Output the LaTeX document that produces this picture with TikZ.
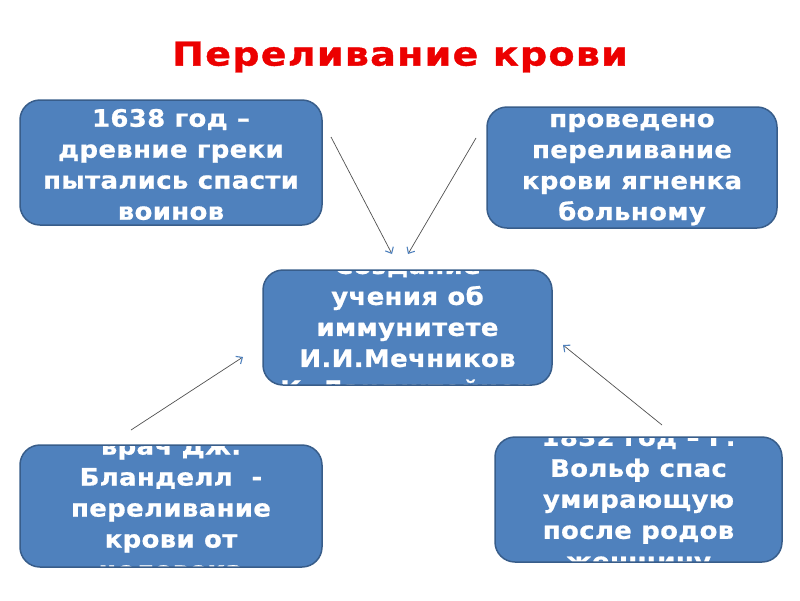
\documentclass[tikz,border=0pt]{standalone}
\usepackage{fontspec}
\setmainfont{DejaVu Sans}
\newfontfamily\boxfont[FakeStretch=1.08, LetterSpace=1.5, FakeBold=0.8]{DejaVu Sans}
\newfontfamily\titlefont[FakeStretch=1.15, LetterSpace=4, FakeBold=1.2]{DejaVu Sans}
\usetikzlibrary{arrows.meta}

\definecolor{boxblue}{RGB}{79,129,189}
\definecolor{boxline}{RGB}{56,93,138}
\definecolor{titlered}{RGB}{236,0,0}
\definecolor{linkgray}{RGB}{80,80,80}

\tikzset{
    box/.style={draw=boxline, fill=boxblue, line width=1.5pt, rounded corners=20pt,
        path picture={\node[boxtext] at ([yshift=-2pt]path picture bounding box.center) {#1};}},
    boxtext/.style={text=white, align=center, inner sep=0pt,
        font=\boxfont\fontsize{24}{31}\selectfont\bfseries},
    link/.style={-{Straight Barb[length=5pt, width=9pt, line width=1.1pt, color=boxblue]},
        draw=linkgray, line width=0.7pt}
}

\begin{document}
\begin{tikzpicture}[x=1pt, y=-1pt]
    \useasboundingbox (0,0) rectangle (800,600);

    \node[text=titlered, font=\titlefont\fontsize{33}{38}\selectfont\bfseries] (title) at (400,57) {Переливание крови};

    \node[box={1638 год –\\древние греки\\пытались спасти\\воинов},
        minimum width=302pt, minimum height=125pt] (greeks) at (171,162.5) {};
    \node[box={проведено\\переливание\\крови ягненка\\больному},
        minimum width=290pt, minimum height=121pt] (lamb) at (632,167.5) {};
    \node[box={Создание\\учения об\\иммунитете\\И.И.Мечников\\К. Ландштейнер},
        minimum width=289pt, minimum height=115pt] (immunity) at (407.5,327.5) {};
    \node[box={врач Дж.\\Бланделл\ \ -\\переливание\\крови от\\человека},
        minimum width=302pt, minimum height=122pt] (blundell) at (171,506) {};
    \node[box={1832 год – Г.\\Вольф спас\\умирающую\\после родов\\женщину},
        minimum width=287pt, minimum height=125pt] (wolf) at (638.5,499.5) {};

    % arrows pointing at the teaching on immunity
    \coordinate (greeks-from) at (331,137);
    \coordinate (greeks-to) at (392,254);
    \coordinate (lamb-from) at (476,138);
    \coordinate (lamb-to) at (408,254);
    \coordinate (blundell-from) at (131,430);
    \coordinate (blundell-to) at (243,357);
    \coordinate (wolf-from) at (662,425);
    \coordinate (wolf-to) at (563,345);

    \draw[link] (greeks-from) -- (greeks-to);
    \draw[link] (lamb-from) -- (lamb-to);
    \draw[link] (blundell-from) -- (blundell-to);
    \draw[link] (wolf-from) -- (wolf-to);
\end{tikzpicture}
\end{document}
